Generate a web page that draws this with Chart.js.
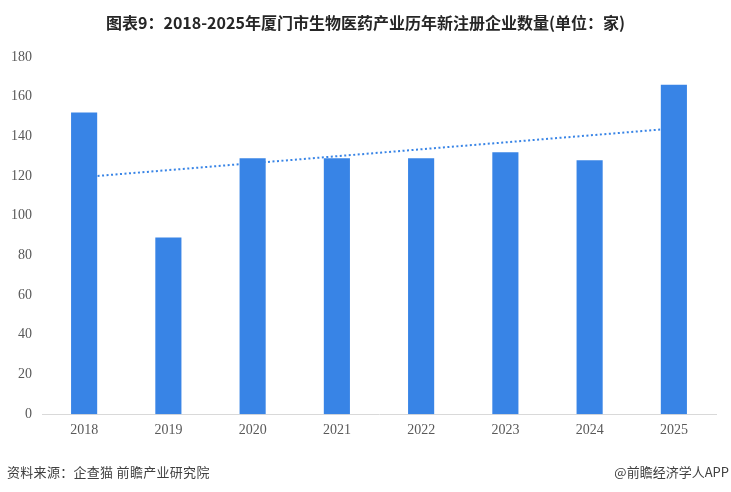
<!DOCTYPE html>
<html>
<head>
<meta charset="utf-8">
<script src="https://cdn.jsdelivr.net/npm/chart.js@4/dist/chart.umd.min.js"></script>
<style>
  html, body { margin: 0; padding: 0; background: #fff; }
  #wrap { position: relative; width: 731px; height: 492px; overflow: hidden; }
  #title {
    position: absolute; top: 10px; left: 0; width: 731px; text-align: center;
    font-family: "Noto Sans CJK SC", sans-serif; font-weight: bold; font-size: 16px; color: #262626;
  }
  .foot {
    position: absolute; top: 462px; font-family: "Noto Sans CJK SC", sans-serif;
    font-size: 13px; line-height: 19px; color: #404040;
  }
</style>
</head>
<body>
<div id="wrap">
  <canvas id="chart" width="731" height="492"></canvas>
  <div id="title">图表9：2018-2025年厦门市生物医药产业历年新注册企业数量(单位：家)</div>
  <div class="foot" style="left:7px; letter-spacing: 0.3px;">资料来源：企查猫 前瞻产业研究院</div>
  <div class="foot" style="right:2px;">@前瞻经济学人APP</div>
</div>
<script>
const years = ['2018', '2019', '2020', '2021', '2022', '2023', '2024', '2025'];
const companies = [152, 89, 129, 129, 129, 132, 128, 166];
// trend line ends (only first and last points)
const trendLine = [119.5, null, null, null, null, null, null, 144];
const yTicks = [0, 20, 40, 60, 80, 100, 120, 140, 160, 180];

const barBlue = '#3884E6';

new Chart(document.getElementById('chart'), {
    type: 'bar',
    data: {
        labels: years,
        datasets: [{
            type: 'line',
            data: trendLine,
            borderColor: barBlue,
            borderWidth: 2,
            borderDash: [2, 2.5],
            pointRadius: 0,
            spanGaps: true,
            fill: false,
            order: 2
        }, {
            data: companies,
            backgroundColor: barBlue,
            barPercentage: 0.62,
            categoryPercentage: 0.5,
            order: 1
        }]
    },
    options: {
        responsive: false,
        animation: false,
        layout: { padding: { top: 57, left: 10, right: 15, bottom: 45 } },
        plugins: { legend: { display: false }, tooltip: { enabled: false } },
        scales: {
            x: {
                grid: { display: false, drawTicks: false },
                border: { display: true, color: '#d9d9d9', width: 1 },
                ticks: { color: '#595959', padding: 8, font: { family: 'Liberation Serif', size: 14 } }
            },
            y: {
                min: 0, max: 180,
                afterBuildTicks: axis => { axis.ticks = yTicks.map(v => ({ value: v })); },
                afterFit: axis => { axis.width = 32; },
                grid: { display: false, drawTicks: false },
                border: { display: false },
                ticks: { color: '#595959', padding: 10, font: { family: 'Liberation Serif', size: 14 } }
            }
        }
    }
});
</script>
</body>
</html>
